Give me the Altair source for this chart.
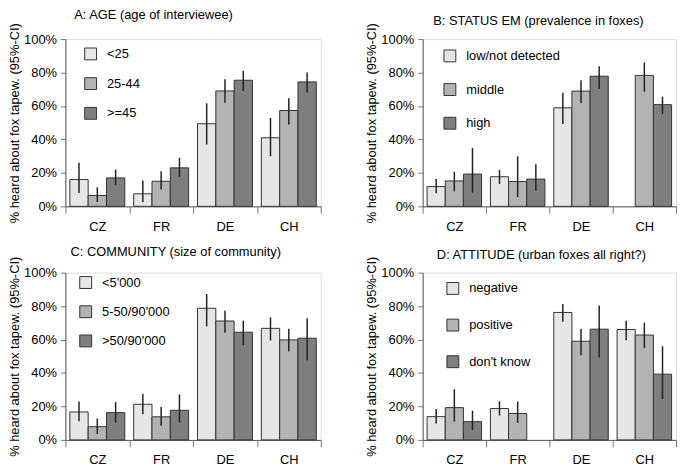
import altair as alt
import pandas as pd

countries = ["CZ", "FR", "DE", "CH"]
colors = ["#e6e6e6", "#b3b3b3", "#7f7f7f"]
y_title = "% heard about fox tapew. (95%-CI)"

# Panel A: AGE
a_title = "A: AGE (age of interviewee)"
a_groups = ["<25", "25-44", ">=45"]
a_val = [[16, 6.5, 17], [7.5, 15, 23], [49.4, 69, 75.4], [41, 57.3, 74.4]]
a_lo = [[8, 2.6, 12.8], [2.6, 10, 17.7], [37, 62, 69], [30, 49, 68]]
a_hi = [[26, 11.4, 22], [15.4, 21, 29], [61.6, 76, 81], [52.8, 64.6, 80]]

# Panel B: STATUS EM
b_title = "B: STATUS EM (prevalence in foxes)"
b_groups = ["low/not detected", "middle", "high"]
b_val = [[11.8, 15.2, 19.3], [17.7, 14.8, 16.3], [58.9, 68.9, 77.8], [None, 78.3, 60.8]]
b_lo = [[7.9, 8.9, 8.3], [13.4, 5.5, 9.3], [49.2, 61.6, 70.3], [None, 68.5, 55.1]]
b_hi = [[16.3, 20.7, 34.8], [21.7, 29.9, 25.2], [67.9, 75.4, 83.7], [None, 86, 65.6]]

# Panel C: COMMUNITY
c_title = "C: COMMUNITY (size of community)"
c_groups = ["<5'000", "5-50/90'000", ">50/90'000"]
c_val = [[16.7, 7.9, 16.3], [21.3, 13.8, 17.7], [78.7, 71.1, 64.4], [66.7, 59.8, 60.8]]
c_lo = [[11.2, 3.5, 10.4], [15.4, 8.5, 10.4], [67.9, 64, 56.7], [59.4, 52.8, 47.6]]
c_hi = [[23, 12.8, 22.6], [27.6, 19.7, 27.2], [87.2, 77.2, 71.3], [73.2, 66.5, 72.8]]

# Panel D: ATTITUDE
d_title = "D: ATTITUDE (urban foxes all right?)"
d_groups = ["negative", "positive", "don't know"]
d_val = [[13.9, 19.3, 10.9], [18.75, 15.8, None], [76.2, 59, 66.2], [66, 62.7, 39.3]]
d_lo = [[9.8, 10.9, 6], [14.6, 10.2, None], [70.7, 50.6, 49.2], [59.6, 55, 24.4]]
d_hi = [[18.4, 30.3, 17.4], [23.2, 22.9, None], [81.3, 66.4, 80.3], [71.3, 70.1, 56]]

FONT = "Liberation Sans"


def panel(title, groups, vals, los, his, w, h, title_offset, title_dx,
          leg_x, leg_y, leg_row):
    rows = []
    for ci, c in enumerate(countries):
        for gi, g in enumerate(groups):
            v = vals[ci][gi]
            if v is None:
                continue
            rows.append(dict(country=c, group=g, value=v / 100,
                             lo=los[ci][gi] / 100, hi=his[ci][gi] / 100))
    df = pd.DataFrame(rows)
    base = alt.Chart(df)
    x_axis = alt.Axis(title=None, labelAngle=0, tickBand="extent",
                      tickSize=7, labelPadding=7, labelFontSize=13,
                      labelFont=FONT, labelColor="#000",
                      domainColor="#555", tickColor="#777")
    y_axis = alt.Axis(format=".0%", values=[0, 0.2, 0.4, 0.6, 0.8, 1.0],
                      labelOverlap=False,
                      title=y_title, grid=False, tickSize=5,
                      labelPadding=4, labelFontSize=13, labelFont=FONT,
                      labelColor="#000", titleFont=FONT, titleFontSize=13,
                      titleFontWeight="normal", titleColor="#000",
                      titlePadding=2, domainColor="#555", tickColor="#777")
    x_scale = alt.Scale(domain=countries, paddingInner=0, paddingOuter=0)
    xo_scale = alt.Scale(domain=groups, paddingInner=0, paddingOuter=0.243)
    y_scale = alt.Scale(domain=[0, 1])
    bars = base.mark_bar(stroke="#333", strokeWidth=1, opacity=1).encode(
        x=alt.X("country:N", scale=x_scale, axis=x_axis),
        xOffset=alt.XOffset("group:N", scale=xo_scale),
        y=alt.Y("value:Q", scale=y_scale, axis=y_axis),
        color=alt.Color("group:N", scale=alt.Scale(domain=groups, range=colors),
                        legend=alt.Legend(title=None, orient="none",
                                          legendX=leg_x, legendY=leg_y,
                                          symbolType="square", symbolSize=144,
                                          symbolStrokeColor="#333",
                                          symbolStrokeWidth=1, symbolOpacity=1,
                                          labelFontSize=13, labelFont=FONT,
                                          labelColor="#000", labelOffset=10,
                                          rowPadding=leg_row, padding=0)))
    err = base.mark_rule(color="#222", strokeWidth=1.5).encode(
        x=alt.X("country:N", scale=x_scale, axis=x_axis),
        xOffset=alt.XOffset("group:N", scale=xo_scale),
        y=alt.Y("lo:Q", scale=y_scale, axis=y_axis), y2="hi:Q")
    return alt.layer(bars, err).properties(
        width=w, height=h,
        title=alt.TitleParams(title, anchor="middle", frame="group",
                              offset=title_offset, dx=title_dx, fontSize=13,
                              fontWeight="normal", font=FONT, color="#000",
                              baseline="alphabetic"))


A = panel(a_title, a_groups, a_val, a_lo, a_hi, 258, 169, -9, -40, 19, 8.5, 13)
B = panel(b_title, b_groups, b_val, b_lo, b_hi, 256, 169, -15, -11, 21, 10.5, 17)
C = panel(c_title, c_groups, c_val, c_lo, c_hi, 258, 169, -13, -17.5, 14, 3.5, 12.5)
D = panel(d_title, d_groups, d_val, d_lo, d_hi, 256, 169, -16, -8, 24, 9.5, 20)

chart = alt.concat(A, B, C, D, columns=2, spacing={"column": 103, "row": 67},
                   bounds="flush").resolve_scale(
    color="independent", x="independent", y="independent", xOffset="independent"
).resolve_legend(color="independent").properties(
    padding={"left": 0, "top": -3, "right": 0, "bottom": 0}
).configure_view(stroke=None).configure(background="white")

chart.save("out.html", embed_options={"renderer": "svg", "actions": False})
